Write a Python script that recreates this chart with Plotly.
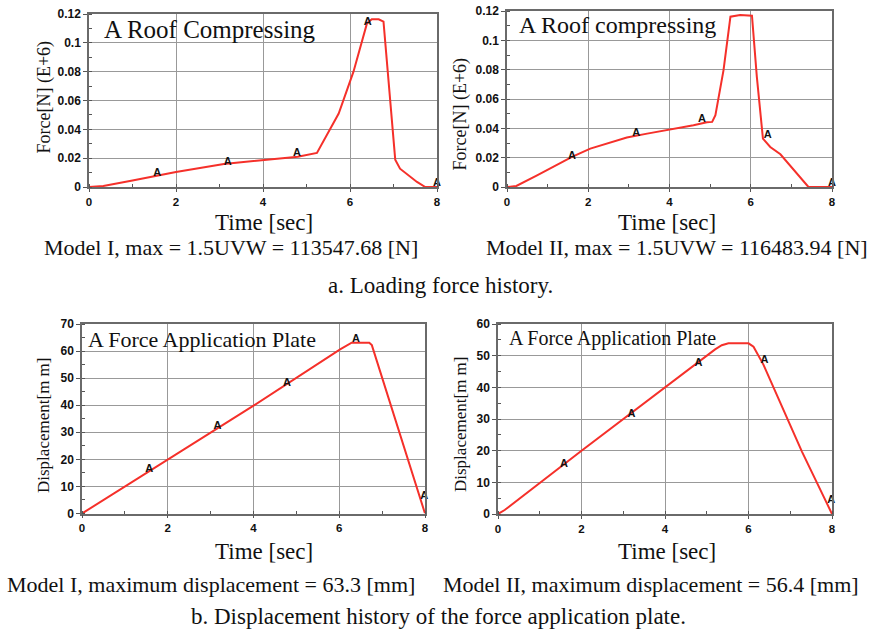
import plotly.graph_objects as go

W, H = 875, 635

# ---------------- data ----------------
# Model I loading force (E+6 N)
f1_t = [0, 0.33, 1.0, 2.0, 3.1, 4.0, 4.8, 5.24, 5.45, 5.74, 6.08, 6.39, 6.5, 6.66, 6.77, 7.04, 7.15, 7.54, 7.73, 7.88, 8.0]
f1_v = [0, 0.0007, 0.0045, 0.0104, 0.016, 0.0185, 0.021, 0.0236, 0.035, 0.051, 0.08, 0.1135, 0.1163, 0.1163, 0.1147, 0.019, 0.0127, 0.0035, 0.0, 0.0, 0.0]
f1_at = [1.57, 3.19, 4.78, 6.41, 8.0]
f1_av = [0.0097, 0.017, 0.0236, 0.114, 0.0023]

# Model II loading force (E+6 N)
f2_t = [0, 0.23, 0.74, 1.19, 1.6, 2.05, 2.46, 2.95, 3.45, 4.02, 4.59, 4.92, 5.05, 5.13, 5.33, 5.5, 5.74, 6.03, 6.15, 6.3, 6.48, 6.73, 7.38, 7.42, 8.0]
f2_v = [0, 0.0007, 0.008, 0.0143, 0.0205, 0.0262, 0.0296, 0.0337, 0.0364, 0.0392, 0.0421, 0.0442, 0.0444, 0.049, 0.0797, 0.1161, 0.1173, 0.1168, 0.0751, 0.033, 0.0273, 0.0223, 0.0011, 0.0, 0.0]
f2_at = [1.6, 3.18, 4.8, 6.42, 8.0]
f2_av = [0.021, 0.0364, 0.046, 0.0353, 0.0023]

# Model I displacement (mm)
d1_t = [0, 2.02, 4.02, 6.02, 6.21, 6.29, 6.7, 6.76, 8.0]
d1_v = [0, 20.1, 40.0, 60.6, 62.2, 63.1, 63.1, 62.2, 0]
d1_at = [1.57, 3.16, 4.78, 6.39, 7.98]
d1_av = [16.3, 32.3, 48.3, 64.3, 6.2]

# Model II displacement (mm)
d2_t = [0, 0.16, 2.0, 4.0, 5.2, 5.36, 5.52, 6.0, 6.12, 6.36, 6.8, 7.28, 7.8, 8.0]
d2_v = [0, 1.26, 20.0, 40.0, 52.0, 53.3, 53.9, 53.9, 52.8, 47.1, 33.9, 19.7, 5.5, 0]
d2_at = [1.58, 3.2, 4.8, 6.38, 7.98]
d2_av = [15.8, 31.6, 47.6, 48.4, 4.2]

x_ticks = [0, 2, 4, 6, 8]
force_ticks = [0, 0.02, 0.04, 0.06, 0.08, 0.1, 0.12]
force_labels = ["0", "0.02", "0.04", "0.06", "0.08", "0.1", "0.12"]
disp1_ticks = [0, 10, 20, 30, 40, 50, 60, 70]
disp2_ticks = [0, 10, 20, 30, 40, 50, 60]

panel_titles = ["A Roof Compressing", "A Roof compressing", "A Force Application Plate", "A Force Application Plate"]
y_titles = ["Force[N] (E+6)", "Force[N] (E+6)", "Displacement[m m]", "Displacement[m m]"]
captions = ["Model I, max = 1.5UVW = 113547.68 [N]", "Model II, max = 1.5UVW = 116483.94 [N]",
            "Model I, maximum displacement = 63.3 [mm]", "Model II, maximum displacement = 56.4 [mm]"]
section_a = "a. Loading force history."
section_b = "b. Displacement history of the force application plate."

# ---------------- layout helpers ----------------
def px(x):
    return x / W

def py(y):
    return 1 - y / H

SERIF = "Liberation Serif, Times New Roman, serif"
SANS = "Liberation Sans, Arial, sans-serif"
RED = "#f5302a"
GRID = "#999999"

# plot areas in pixels: (left, right, top, bottom)
areas = [(89, 437, 14, 187), (507, 832, 11, 187), (82, 425, 324, 513.5), (498, 832, 324, 514)]

fig = go.Figure()

series = [(f1_t, f1_v, f1_at, f1_av), (f2_t, f2_v, f2_at, f2_av),
          (d1_t, d1_v, d1_at, d1_av), (d2_t, d2_v, d2_at, d2_av)]

for i, (t, v, at, av) in enumerate(series):
    xa = "x" if i == 0 else f"x{i+1}"
    ya = "y" if i == 0 else f"y{i+1}"
    fig.add_trace(go.Scatter(x=t, y=v, mode="lines", line=dict(color=RED, width=2),
                             xaxis=xa, yaxis=ya, showlegend=False, hoverinfo="skip"))
    fig.add_trace(go.Scatter(x=at, y=av, mode="text", text=["A"] * len(at),
                             textfont=dict(family=SANS, size=11, color="#111", weight="bold"),
                             textposition="middle center",
                             xaxis=xa, yaxis=ya, showlegend=False, hoverinfo="skip",
                             cliponaxis=False))

yranges = [[0, 0.12], [0, 0.12], [0, 70], [0, 60]]
ytickv = [force_ticks, force_ticks, disp1_ticks, disp2_ticks]
ytickt = [force_labels, force_labels, [str(v) for v in disp1_ticks], [str(v) for v in disp2_ticks]]
yminor = [0.01, 0.01, 5, 5]

layout = dict(width=W, height=H, margin=dict(l=0, r=0, t=0, b=0),
              paper_bgcolor="white", plot_bgcolor="white", showlegend=False)

for i, (l, r, t, b) in enumerate(areas):
    xk = "xaxis" if i == 0 else f"xaxis{i+1}"
    yk = "yaxis" if i == 0 else f"yaxis{i+1}"
    ya = "y" if i == 0 else f"y{i+1}"
    xa = "x" if i == 0 else f"x{i+1}"
    layout[xk] = dict(domain=[px(l), px(r)], range=[0, 8], anchor=ya,
                      tickvals=x_ticks, ticktext=[str(v) for v in x_ticks],
                      showline=True, mirror=True, linecolor="#6a6a6a", linewidth=1.5,
                      showgrid=True, gridcolor=GRID, gridwidth=1.2,
                      ticks="outside", ticklen=3, tickcolor="#555",
                      minor=dict(dtick=1, ticks="inside", ticklen=3, tickcolor="#555", showgrid=False),
                      tickfont=dict(family=SANS, size=11.5, color="#111", weight="bold"),
                      zeroline=False, fixedrange=True, automargin=False)
    layout[yk] = dict(domain=[py(b), py(t)], range=yranges[i], anchor=xa,
                      tickvals=ytickv[i], ticktext=ytickt[i],
                      showline=True, mirror=True, linecolor="#6a6a6a", linewidth=1.5,
                      showgrid=True, gridcolor=GRID, gridwidth=1.2,
                      ticks="outside", ticklen=4, tickcolor="#555",
                      minor=dict(dtick=yminor[i], ticks="inside", ticklen=3, tickcolor="#555", showgrid=False),
                      tickfont=dict(family=SANS, size=12, color="#111", weight="bold"),
                      zeroline=False, fixedrange=True, automargin=False)

fig.update_layout(**layout)

# white boxes behind panel titles (cover the grid)
boxes = [(89, 317, 14, 46), (507, 723, 11, 38), (82, 330, 324, 349), (498, 710, 324, 350)]
shapes = []
for (l, r, t, b) in boxes:
    shapes.append(dict(type="rect", xref="paper", yref="paper", x0=px(l), x1=px(r),
                       y0=py(b), y1=py(t), fillcolor="white", line=dict(width=0), layer="between"))
fig.update_layout(shapes=shapes)

ann = []
# panel titles: (left px, center y px, font size)
title_pos = [(102, 29.5, 25), (517, 25, 24), (86, 339.5, 22), (507, 338, 20)]
for txt, (x, y, fs) in zip(panel_titles, title_pos):
    ann.append(dict(text=txt, x=px(x), y=py(y), xref="paper", yref="paper", xanchor="left",
                    yanchor="middle", showarrow=False, font=dict(family=SERIF, size=fs, color="#111")))

# y axis titles
ytitle_pos = [(44, 97.5, 18), (460, 114.5, 18), (43, 425, 17), (460, 424, 17)]
for txt, (x, y, fs) in zip(y_titles, ytitle_pos):
    ann.append(dict(text=txt, x=px(x), y=py(y), xref="paper", yref="paper", xanchor="center",
                    yanchor="middle", textangle=-90, showarrow=False,
                    font=dict(family=SERIF, size=fs, color="#111")))

# x axis titles
xtitle_pos = [(264, 222), (667, 222), (264, 551.5), (667, 551.5)]
for (x, y) in xtitle_pos:
    ann.append(dict(text="Time [sec]", x=px(x), y=py(y), xref="paper", yref="paper", xanchor="center",
                    yanchor="middle", showarrow=False, font=dict(family=SERIF, size=23, color="#111")))

# captions
cap_pos = [(231, 247), (677, 247), (211, 584.5), (651, 584.5)]
for txt, (x, y) in zip(captions, cap_pos):
    ann.append(dict(text=txt, x=px(x), y=py(y), xref="paper", yref="paper", xanchor="center",
                    yanchor="middle", showarrow=False, font=dict(family=SERIF, size=22, color="#111")))

ann.append(dict(text=section_a, x=px(440), y=py(285), xref="paper", yref="paper", xanchor="center",
                yanchor="middle", showarrow=False, font=dict(family=SERIF, size=23, color="#111")))
ann.append(dict(text=section_b, x=px(439), y=py(616), xref="paper", yref="paper", xanchor="center",
                yanchor="middle", showarrow=False, font=dict(family=SERIF, size=23, color="#111")))

fig.update_layout(annotations=ann)

fig.write_html("out.html", config=dict(displayModeBar=False))

# remove the default page margin so the figure sits at the window origin
with open("out.html", "r", encoding="utf-8") as fh:
    html = fh.read()
html = html.replace("<head>", "<head><style>html,body{margin:0;padding:0;overflow:hidden;}</style>", 1)
with open("out.html", "w", encoding="utf-8") as fh:
    fh.write(html)
